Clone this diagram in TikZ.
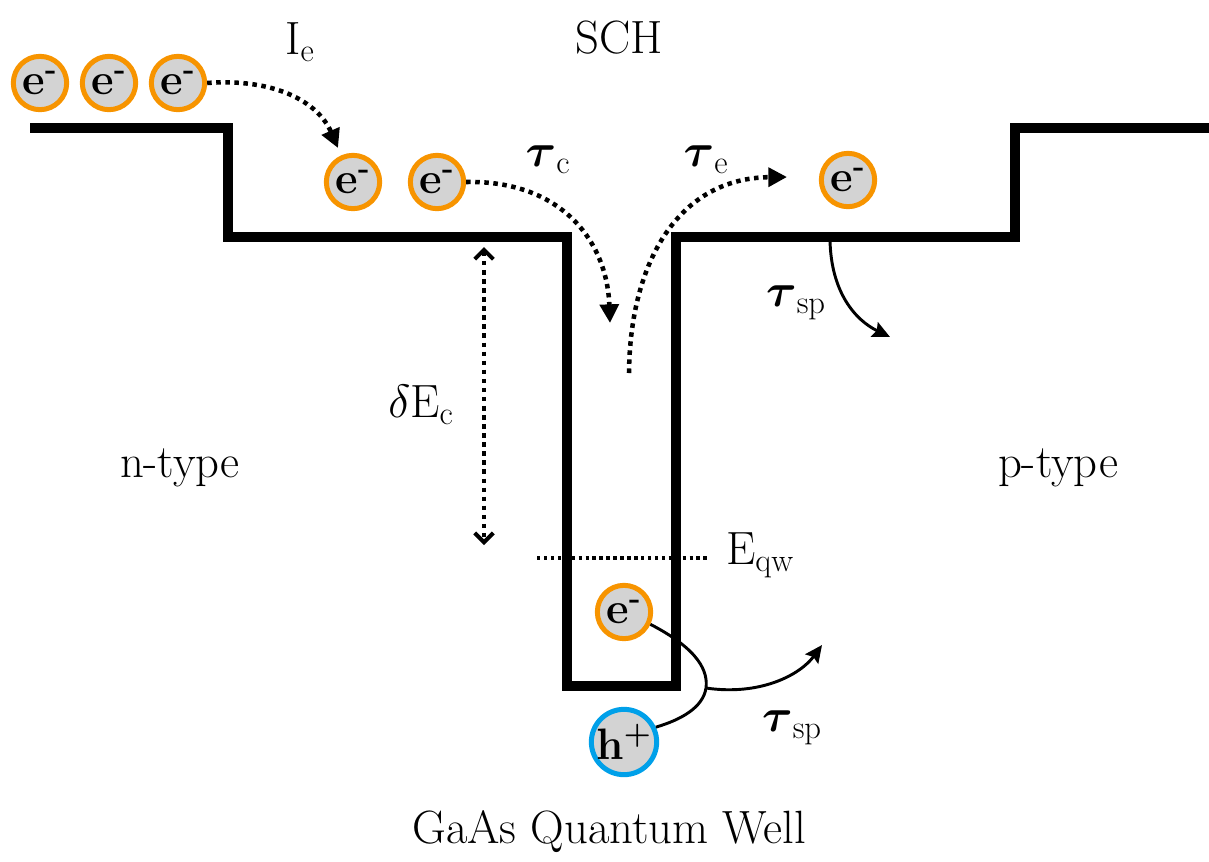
\RequirePackage{fix-cm}
\documentclass[tikz,border=0pt]{standalone}
\usepackage{amsmath}
\usetikzlibrary{arrows.meta}
\definecolor{eorange}{RGB}{247,148,0}
\definecolor{hblue}{RGB}{0,160,233}
\definecolor{pgray}{RGB}{211,211,211}
\begin{document}
\begin{tikzpicture}[x=0.75pt,y=-0.75pt,
  particle/.style={circle,fill=pgray,line width=3.75pt,minimum size=40pt,inner sep=0pt,font=\fontsize{33}{33}\selectfont\bfseries},
  elec/.style={particle,draw=eorange},
  hole/.style={particle,draw=hblue},
  lbl/.style={font=\fontsize{35}{35}\selectfont,inner sep=0pt},
  band/.style={line width=6.8pt,line join=miter},
  dotline/.style={line width=3.4pt,dash pattern=on 3.4pt off 3.4pt},
  dotarrow/.style={dotline,-{Triangle[length=14pt,width=14pt]}},
  dblarrow/.style={dotline,{Straight Barb[length=7pt,width=14pt,line width=3pt]}-{Straight Barb[length=7pt,width=14pt,line width=3pt]}},
  solidarrow/.style={line width=2.2pt,-{Stealth[length=13pt,width=12pt,inset=2pt]}}
]
\useasboundingbox (0,0) rectangle (1209,861);

% band edge
\draw[band] (30,128) -- (228,128) -- (228,237) -- (567,237) -- (567,686) -- (676,686) -- (676,237) -- (1015,237) -- (1015,128) -- (1209,128);

% particles
\node[elec] (e1) at (40,83) {e\textsuperscript{-}};
\node[elec] (e2) at (109,83) {e\textsuperscript{-}};
\node[elec] (e3) at (178,83) {e\textsuperscript{-}};
\node[elec] (e4) at (353,182) {e\textsuperscript{-}};
\node[elec] (e5) at (437,182) {e\textsuperscript{-}};
\node[elec] (e6) at (848,180) {e\textsuperscript{-}};
\node[elec] (e7) at (624,612) {e\textsuperscript{-}};
\node[hole] (h1) at (624,742) {h\textsuperscript{+}};

% labels
\node[lbl] (Ie) at (300,42) {I\textsubscript{e}};
\node[lbl] (sch) at (619,38) {SCH};
\node[lbl] (tc) at (548,160) {$\boldsymbol{\tau}$\textsubscript{c}};
\node[lbl] (te) at (706,160) {$\boldsymbol{\tau}$\textsubscript{e}};
\node[lbl] (tsp1) at (796,303) {$\boldsymbol{\tau}$\textsubscript{sp}};
\node[lbl] (dEc) at (421,405) {$\delta$E\textsubscript{c}};
\node[lbl] (nt) at (180,468) {n-type};
\node[lbl] (pt) at (1058,468) {p-type};
\node[lbl] (eqw) at (760,555) {E\textsubscript{qw}};
\node[lbl] (tsp2) at (792,728) {$\boldsymbol{\tau}$\textsubscript{sp}};
\node[lbl] (qw) at (609,832) {GaAs Quantum Well};

% coordinates
\coordinate (iet) at (338,148);
\coordinate (tcs) at (610,323);
\coordinate (tes) at (629,373);
\coordinate (tee) at (787,177);
\coordinate (sp1s) at (830,240);
\coordinate (sp1e) at (890,337);
\coordinate (dt) at (484,247);
\coordinate (db) at (484,545);
\coordinate (ql) at (537,558);
\coordinate (qr) at (707,558);
\coordinate (bend) at (706,688);
\coordinate (sp2e) at (822,645);

% connectors
\draw[dotarrow] (e3.east) .. controls (275,78) and (318,102) .. (iet);
\draw[dotarrow] (e5.east) .. controls (560,180) and (607,240) .. (tcs);
\draw[dotarrow] (tes) .. controls (630,260) and (680,178) .. (tee);
\draw[dblarrow] (dt) -- (db);
\draw[line width=2.6pt,dash pattern=on 2.6pt off 2.6pt] (ql) -- (qr);
\draw[solidarrow] (sp1s) .. controls (831,292) and (855,320) .. (sp1e);
\draw[line width=2.2pt] (e7.-25) .. controls (700,650) and (708,672) .. (bend) .. controls (703,708) and (680,720) .. (h1.25);
\draw[solidarrow] (bend) .. controls (760,696) and (800,675) .. (sp2e);
\end{tikzpicture}
\end{document}
